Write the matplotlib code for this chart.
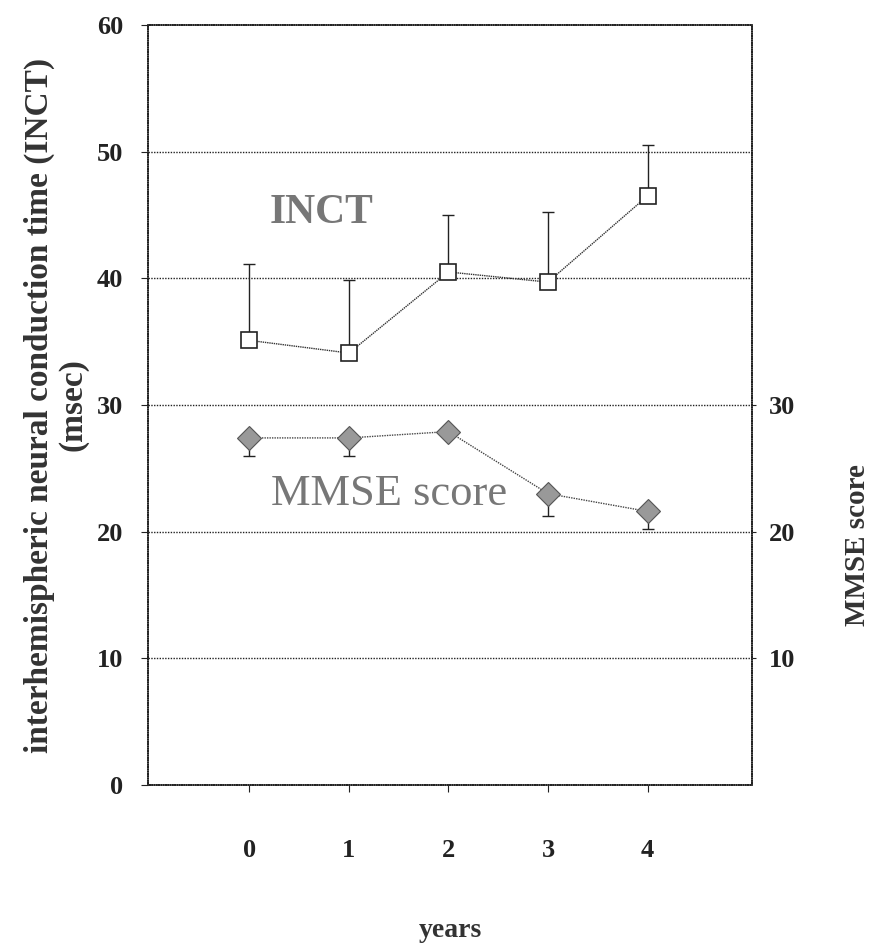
import numpy as np
import matplotlib
matplotlib.use('Agg')
import matplotlib.pyplot as plt

plt.rcParams['font.family'] = ['Liberation Serif', 'DejaVu Serif']

# data
years = [0, 1, 2, 3, 4]
inct = [35.1, 34.1, 40.5, 39.7, 46.5]
inct_err_up = [6.0, 5.8, 4.5, 5.5, 4.0]
mmse = [27.4, 27.4, 27.9, 23.0, 21.6]
mmse_err_down = [1.4, 1.4, 0.0, 1.8, 1.4]

left_ticks = [0, 10, 20, 30, 40, 50, 60]
right_ticks = [10, 20, 30]

fig = plt.figure(figsize=(8.74, 9.46), dpi=100)
ax = fig.add_axes([0.1693, 0.1702, 0.6911, 0.8034])

# grid lines
for yv in [10, 20, 30, 40, 50]:
    ax.axhline(yv, color='#222222', lw=1.0, ls=(0, (1, 1)), zorder=1)

# INCT series, error bars upward only
ax.errorbar(years, inct, yerr=[np.zeros(len(inct)), inct_err_up],
            fmt='none', ecolor='#222222', elinewidth=1.0, capsize=4, capthick=1.0, zorder=2)
ax.plot(years, inct, color='#333333', lw=1.0, ls=(0, (1, 0.6)),
        marker='s', markersize=12, markerfacecolor='white',
        markeredgecolor='#222222', markeredgewidth=1.2, zorder=3)

ax.set_xlim(-1.02, 5.05)
ax.set_ylim(0, 60)
ax.set_yticks(left_ticks)
ax.set_xticks(years)
ax.set_xticklabels([str(y) for y in years])
ax.tick_params(axis='y', direction='out', length=5, width=0.8, pad=13,
               labelsize=19, colors='#222222')
ax.tick_params(axis='x', direction='out', length=5, width=0.8, pad=34,
               labelsize=19, colors='#222222')
for lab in ax.get_xticklabels() + ax.get_yticklabels():
    lab.set_fontweight('bold')

for sp in ax.spines.values():
    sp.set_color('#222222')
    sp.set_linewidth(1.1)
    sp.set_linestyle((0, (1, 0.5)))

ax.set_xlabel('years', fontsize=20, fontweight='bold', color='#333333', labelpad=40)
ax.set_ylabel('interhemispheric neural conduction time (INCT)\n(msec)',
              fontsize=24, fontweight='bold', color='#333333', linespacing=1.1,
              ha='center', va='center')
ax.yaxis.set_label_coords(-0.152, 0.5)

ax.text(0.2, 44.4, 'INCT', fontsize=30, fontweight='bold', color='#777777')
ax.text(0.22, 22.1, 'MMSE score', fontsize=32, color='#777777')

# MMSE on right axis, same scale
ax2 = ax.twinx()
ax2.set_ylim(0, 60)
ax2.set_yticks(right_ticks)
ax2.tick_params(axis='y', direction='out', length=3, width=0.8, pad=9,
                labelsize=19, colors='#222222')
for lab in ax2.get_yticklabels():
    lab.set_fontweight('bold')
for sp in ax2.spines.values():
    sp.set_visible(False)

ax2.errorbar(years, mmse, yerr=[mmse_err_down, np.zeros(len(mmse))],
             fmt='none', ecolor='#222222', elinewidth=1.0, capsize=4, capthick=1.0, zorder=2)
ax2.plot(years, mmse, color='#444444', lw=1.0, ls=(0, (1, 0.8)),
         marker='D', markersize=12, markerfacecolor='#999999',
         markeredgecolor='#555555', markeredgewidth=0.8, zorder=3)

ax2.set_ylabel('MMSE score', fontsize=21, fontweight='bold', color='#333333',
               rotation=90, ha='center', va='center')
ax2.yaxis.set_label_coords(1.174, 0.316)

plt.savefig('out.png', dpi=100)
